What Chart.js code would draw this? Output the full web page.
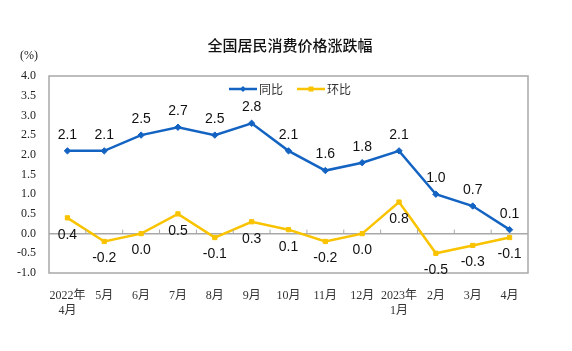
<!DOCTYPE html>
<html>
<head>
<meta charset="utf-8">
<script src="https://cdn.jsdelivr.net/npm/chart.js@4.4.1/dist/chart.umd.min.js"></script>
<style>
  html, body { margin: 0; padding: 0; background: #fff; }
  #wrap { width: 572px; height: 351px; }
</style>
</head>
<body>
<div id="wrap"><canvas id="myChart" width="572" height="351"></canvas></div>
<script>
// months, 2022-04 .. 2023-04
const months = [['2022年', '4月'], '5月', '6月', '7月', '8月', '9月', '10月', '11月', '12月', ['2023年', '1月'], '2月', '3月', '4月'];
const yoy = [2.1, 2.1, 2.5, 2.7, 2.5, 2.8, 2.1, 1.6, 1.8, 2.1, 1.0, 0.7, 0.1];   // 同比
const mom = [0.4, -0.2, 0.0, 0.5, -0.1, 0.3, 0.1, -0.2, 0.0, 0.8, -0.5, -0.3, -0.1]; // 环比
const yTicks = [-1.0, -0.5, 0.0, 0.5, 1.0, 1.5, 2.0, 2.5, 3.0, 3.5, 4.0];

const blue = '#1363c2';
const yellow = '#f9c300';
const serif = "'Liberation Serif', 'Noto Sans CJK SC', serif";
const sans = "'Liberation Sans', Arial, sans-serif";

// title, unit, legend, frame, zero ticks and value labels
const extras = {
    id: 'extras',
    afterDatasetsDraw(chart) {
        const ctx = chart.ctx;
        const a = chart.chartArea;
        const xs = chart.scales.x;
        const ys = chart.scales.y;
        ctx.save();

        // frame
        ctx.strokeStyle = '#a8a8a8';
        ctx.lineWidth = 1.5;
        ctx.strokeRect(a.left, a.top, a.right - a.left, a.bottom - a.top);

        // little ticks on the zero line between months
        const y0 = ys.getPixelForValue(0);
        ctx.lineWidth = 1;
        ctx.beginPath();
        for (let i = 1; i < months.length; i++) {
            const x = (xs.getPixelForValue(i - 1) + xs.getPixelForValue(i)) / 2;
            ctx.moveTo(x, y0);
            ctx.lineTo(x, y0 - 4);
        }
        ctx.stroke();

        // title and unit
        ctx.fillStyle = '#111';
        ctx.textAlign = 'center';
        ctx.textBaseline = 'middle';
        ctx.font = "500 15px 'Noto Sans CJK SC'";
        ctx.fillText('全国居民消费价格涨跌幅', 290, 45);
        ctx.font = '12px ' + serif;
        ctx.textAlign = 'left';
        ctx.fillStyle = '#222';
        ctx.fillText('(%)', 20, 56);

        // legend
        ctx.font = "12px 'Noto Sans CJK SC'";
        ctx.fillStyle = '#333';
        let lx = 229;
        const ly = 89;
        chart.data.datasets.forEach((ds) => {
            ctx.strokeStyle = ds.borderColor;
            ctx.lineWidth = 2.5;
            ctx.beginPath();
            ctx.moveTo(lx, ly);
            ctx.lineTo(lx + 28, ly);
            ctx.stroke();
            ctx.fillStyle = ds.borderColor;
            if (ds.pointStyle === 'rectRot') {
                ctx.beginPath();
                ctx.moveTo(lx + 14, ly - 3); ctx.lineTo(lx + 17, ly); ctx.lineTo(lx + 14, ly + 3); ctx.lineTo(lx + 11, ly);
                ctx.fill();
            } else {
                ctx.fillRect(lx + 11.5, ly - 2.5, 5, 5);
            }
            ctx.fillStyle = '#333';
            ctx.fillText(ds.label, lx + 30, ly);
            lx += 30 + ctx.measureText(ds.label).width + 14;
        });

        // value labels
        ctx.font = '14px ' + sans;
        ctx.fillStyle = '#111';
        ctx.textAlign = 'center';
        chart.data.datasets.forEach((ds, di) => {
            const meta = chart.getDatasetMeta(di);
            meta.data.forEach((pt, i) => {
                const dy = di === 0 ? -16 : 17;
                ctx.fillText(ds.data[i].toFixed(1), pt.x, pt.y + dy);
            });
        });
        ctx.restore();
    }
};

let ctx = document.getElementById('myChart').getContext('2d');
const myChart = new Chart(ctx, {
    type: 'line',
    data: {
        labels: months,
        datasets: [
            {
                label: '同比',
                data: yoy,
                borderColor: blue,
                backgroundColor: blue,
                borderWidth: 2.5,
                pointStyle: 'rectRot',
                pointRadius: 3.2,
                pointBorderWidth: 1,
                tension: 0
            },
            {
                label: '环比',
                data: mom,
                borderColor: yellow,
                backgroundColor: yellow,
                borderWidth: 2.5,
                pointStyle: 'rect',
                pointRadius: 3,
                pointBorderWidth: 1,
                tension: 0
            }
        ]
    },
    options: {
        responsive: false,
        animation: false,
        layout: { padding: { left: 0, right: 44, top: 76, bottom: 0 } },
        plugins: {
            legend: { display: false },
            title: { display: false },
            tooltip: { enabled: false }
        },
        scales: {
            x: {
                offset: true,
                grid: { display: false },
                border: { display: false },
                ticks: {
                    color: '#333',
                    font: { family: serif, size: 12 },
                    padding: 8,
                    maxRotation: 0,
                    autoSkip: false
                },
                afterFit(s) { s.height = 78; }
            },
            y: {
                min: -1,
                max: 4,
                afterBuildTicks(s) { s.ticks = yTicks.map(v => ({value: v})); },
                grid: {
                    drawTicks: false,
                    color: (c) => c.tick && c.tick.value === 0 ? '#a8a8a8' : 'rgba(0,0,0,0)',
                    lineWidth: 1.5
                },
                border: { display: false },
                ticks: {
                    color: '#222',
                    font: { family: serif, size: 12 },
                    padding: 13,
                    callback: (v) => Number(v).toFixed(1)
                },
                afterFit(s) { s.width = 49; }
            }
        }
    },
    plugins: [extras]
});
</script>
</body>
</html>
